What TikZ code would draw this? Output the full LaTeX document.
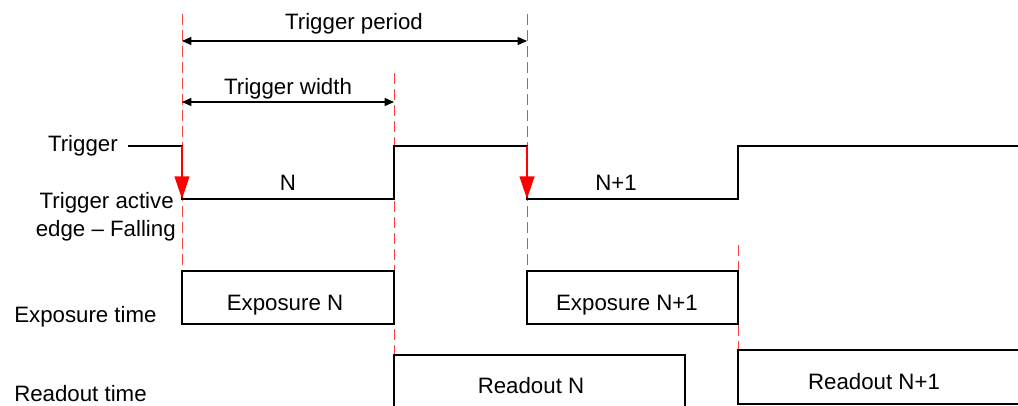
\documentclass[tikz,border=0pt]{standalone}
\usepackage{fontspec}
\setmainfont{Liberation Sans}
\usetikzlibrary{arrows.meta}
\begin{document}
\begin{tikzpicture}[x=0.75pt,y=-0.75pt,
 lbl/.style={font=\fontsize{16.7}{20}\selectfont, inner sep=0pt, anchor=base},
 sig/.style={line width=1.1pt, line join=miter},
 guide/.style={draw=red!75!white, line width=0.55pt, dash pattern=on 8pt off 4pt},
 dim/.style={line width=0.9pt, {Triangle[length=7pt,width=6pt]}-{Triangle[length=7pt,width=6pt]}},
 edgearrow/.style={draw=red, line width=1.6pt, -{Triangle[length=17pt,width=11pt]}}]
\useasboundingbox (0,0) rectangle (1018,405);

% guide lines
\draw[guide] (182,14) -- (182,293);
\draw[guide] (394,73) -- (394,355);
\draw[guide] (527,14) -- (527,293);
\draw[guide] (738,245) -- (738,350);

% trigger signal
\coordinate (s0) at (128,146);
\coordinate (f1a) at (182,146);
\coordinate (f1b) at (182,199);
\coordinate (r1b) at (394,199);
\coordinate (r1a) at (394,146);
\coordinate (f2a) at (527,146);
\coordinate (f2b) at (527,199);
\coordinate (r2b) at (738,199);
\coordinate (r2a) at (738,146);
\coordinate (s1) at (1022,146);
\draw[sig] (s0) -- (f1a) -- (f1b) -- (r1b) -- (r1a) -- (f2a) -- (f2b) -- (r2b) -- (r2a) -- (s1);
\draw[edgearrow] (f1a) -- (f1b);
\draw[edgearrow] (f2a) -- (f2b);

% dimension arrows
\coordinate (p0) at (182,41);
\coordinate (p1) at (527,41);
\coordinate (w0) at (182,102);
\coordinate (w1) at (394,102);
\draw[dim] (p0) -- (p1);
\draw[dim] (w0) -- (w1);

% exposure and readout boxes
\draw[sig] (182,271) rectangle (394,324);
\draw[sig] (527,271) rectangle (738,324);
\draw[sig] (394,410) -- (394,355) -- (685,355) -- (685,410);
\draw[sig] (1022,350) -- (738,350) -- (738,404) -- (1022,404);

% labels
\node[lbl] (tp) at (354,29) {Trigger period};
\node[lbl] (tw) at (288,94) {Trigger width};
\node[lbl,anchor=base east] (trg) at (118,151) {Trigger};
\node[lbl] (n1) at (288,190) {N};
\node[lbl] (n2) at (616,190) {N+1};
\node[lbl,anchor=base east] (ta1) at (174,208) {Trigger active};
\node[lbl,anchor=base east] (ta2) at (176,236) {edge – Falling};
\node[lbl,anchor=base west] (et) at (14,322) {Exposure time};
\node[lbl,anchor=base west] (rt) at (14,401) {Readout time};
\node[lbl] (en) at (285,310) {Exposure N};
\node[lbl] (en1) at (627,310) {Exposure N+1};
\node[lbl] (rn) at (531,393) {Readout N};
\node[lbl] (rn1) at (874,389) {Readout N+1};
\end{tikzpicture}
\end{document}
